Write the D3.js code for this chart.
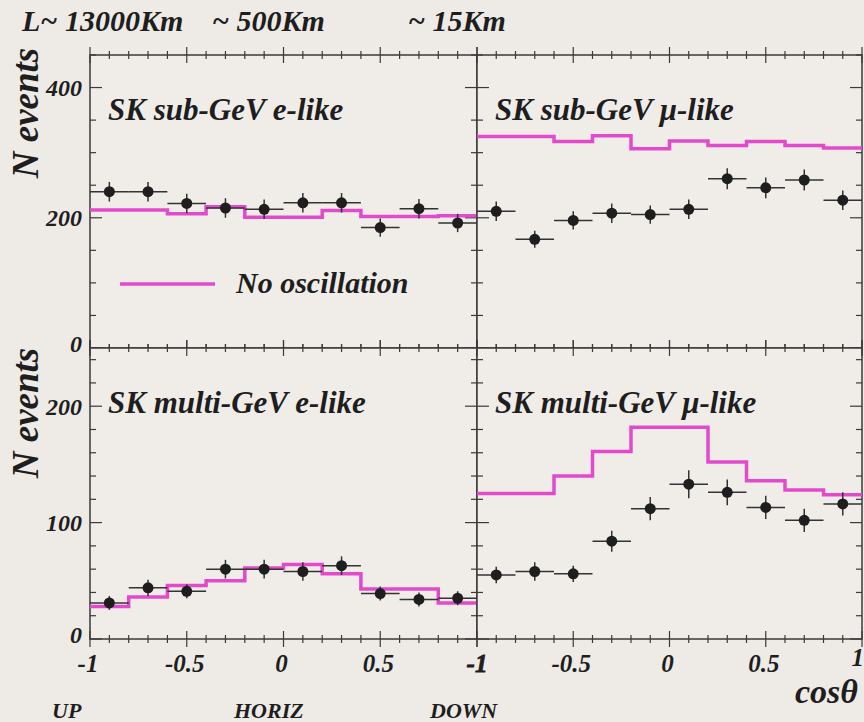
<!DOCTYPE html>
<html>
<head>
<meta charset="utf-8">
<script src="https://cdn.jsdelivr.net/npm/d3@7"></script>
<style>
  body { margin: 0; background: #eeebe6; }
</style>
</head>
<body>
<div id="chart"></div>
<script>
// zenith angle distributions, 10 bins in cos(theta)
const binCenters = [-0.9, -0.7, -0.5, -0.3, -0.1, 0.1, 0.3, 0.5, 0.7, 0.9];

// sub-GeV e-like
const subE_data = [240, 240, 222, 215, 213, 223, 223, 185, 214, 192];
const subE_err = [15, 15, 15, 15, 15, 15, 15, 14, 15, 14];
const subE_mc = [212, 212, 206, 217, 201, 201, 211, 202, 202, 203];

// sub-GeV mu-like
const subMu_data = [210, 167, 196, 207, 205, 213, 260, 246, 258, 227];
const subMu_err = [15, 13, 14, 15, 14, 15, 16, 16, 16, 15];
const subMu_mc = [325, 325, 317, 326, 306, 318, 311, 317, 311, 307];

// multi-GeV e-like
const multiE_data = [31, 44, 41, 60, 60, 58, 63, 39, 34, 35];
const multiE_err = [6, 7, 6, 8, 8, 8, 8, 6, 6, 6];
const multiE_mc = [28, 36, 46, 50, 61, 64, 56, 43, 43, 31];

// multi-GeV mu-like
const multiMu_data = [55, 58, 56, 84, 112, 133, 126, 113, 102, 116];
const multiMu_err = [7, 8, 7, 9, 10, 12, 11, 10, 10, 10];
const multiMu_mc = [125, 125, 140, 161, 182, 182, 152, 136, 128, 124];

const xTickValues = [-1, -0.5, 0, 0.5, 1];
const xTickLabels = ["-1", "-0.5", "0", "0.5", "1"];
const topYTicks = [0, 200, 400];
const bottomYTicks = [0, 100, 200];

const width = 864, height = 722;
const magenta = "#e24acb";
const ink = "#1e1e1e";

const svg = d3.select("#chart").append("svg")
    .attr("width", width)
    .attr("height", height)
    .attr("font-family", "'Liberation Serif', 'Times New Roman', serif")
    .attr("font-weight", "bold")
    .attr("font-style", "italic")
    .attr("fill", ink);

svg.append("rect").attr("width", width).attr("height", height).attr("fill", "#eeebe6");

// panel geometry
const cols = [[90, 477], [477, 862]];
const rows = [[55, 348], [348, 639]];

const panels = [
    {col: 0, row: 0, label: "SK sub-GeV e-like", data: subE_data, err: subE_err, mc: subE_mc, ymax: 450, minor: 50, yTicks: topYTicks},
    {col: 1, row: 0, label: "SK sub-GeV \u03bc-like", data: subMu_data, err: subMu_err, mc: subMu_mc, ymax: 450, minor: 50, yTicks: topYTicks},
    {col: 0, row: 1, label: "SK multi-GeV e-like", data: multiE_data, err: multiE_err, mc: multiE_mc, ymax: 250, minor: 20, yTicks: bottomYTicks},
    {col: 1, row: 1, label: "SK multi-GeV \u03bc-like", data: multiMu_data, err: multiMu_err, mc: multiMu_mc, ymax: 250, minor: 20, yTicks: bottomYTicks}
];

panels.forEach(p => {
    const x = d3.scaleLinear().domain([-1, 1]).range(cols[p.col]);
    const y = d3.scaleLinear().domain([0, p.ymax]).range([rows[p.row][1], rows[p.row][0]]);
    const g = svg.append("g");

    // frame
    g.append("rect")
        .attr("x", x(-1)).attr("y", y(p.ymax))
        .attr("width", x(1) - x(-1)).attr("height", y(0) - y(p.ymax))
        .attr("fill", "#f0ede9")
        .attr("stroke", "#3a3a3a")
        .attr("stroke-width", 1.5);

    // x ticks top and bottom (cross the frame)
    const xt = d3.range(-10, 11).map(d => d / 10);
    const isMajor = d => Math.abs(d * 2 - Math.round(d * 2)) < 1e-6;
    [y(0), y(p.ymax)].forEach(yy => {
        g.selectAll(null).data(xt).enter().append("line")
            .attr("x1", d => x(d)).attr("x2", d => x(d))
            .attr("y1", d => yy - (isMajor(d) ? 8 : 4))
            .attr("y2", d => yy + (isMajor(d) ? 8 : 4))
            .attr("stroke", "#3a3a3a").attr("stroke-width", 1.2);
    });

    // y ticks left and right (inward)
    const yt = d3.range(0, p.ymax + 1, p.minor);
    [[x(-1), 1], [x(1), -1]].forEach(([xx, dir]) => {
        g.selectAll(null).data(yt).enter().append("line")
            .attr("x1", xx).attr("x2", d => xx + dir * (p.yTicks.includes(d) ? 12 : 6))
            .attr("y1", d => y(d)).attr("y2", d => y(d))
            .attr("stroke", "#3a3a3a").attr("stroke-width", 1.2);
    });

    // y tick labels (left column only)
    if (p.col === 0) {
        g.selectAll(null).data(p.yTicks).enter().append("text")
            .attr("x", x(-1) - 8)
            .attr("y", d => y(d) + (d === 0 ? -4 : 0))
            .attr("dy", "0.35em")
            .attr("text-anchor", "end")
            .style("font-size", "24px")
            .text(d => d);
    }

    // MC histogram (step line)
    const steps = [];
    p.mc.forEach((v, i) => {
        steps.push([binCenters[i] - 0.1, v]);
        steps.push([binCenters[i] + 0.1, v]);
    });
    g.append("path")
        .attr("d", d3.line().x(d => x(d[0])).y(d => y(d[1]))(steps))
        .attr("fill", "none")
        .attr("stroke", magenta)
        .attr("stroke-width", 3.5);

    // data points with error bars
    const pts = p.data.map((v, i) => ({c: binCenters[i], v: v, e: p.err[i]}));
    g.selectAll(null).data(pts).enter().append("line")
        .attr("x1", d => x(d.c - 0.1)).attr("x2", d => x(d.c + 0.1))
        .attr("y1", d => y(d.v)).attr("y2", d => y(d.v))
        .attr("stroke", "#333").attr("stroke-width", 1.5);
    g.selectAll(null).data(pts).enter().append("line")
        .attr("x1", d => x(d.c)).attr("x2", d => x(d.c))
        .attr("y1", d => y(d.v - d.e)).attr("y2", d => y(d.v + d.e))
        .attr("stroke", "#333").attr("stroke-width", 1.5);
    g.selectAll(null).data(pts).enter().append("circle")
        .attr("cx", d => x(d.c)).attr("cy", d => y(d.v))
        .attr("r", 5.5)
        .attr("fill", ink);

    // panel label
    g.append("text")
        .attr("x", x(-1) + 18)
        .attr("y", y(p.ymax) + 65)
        .style("font-size", "31px")
        .text(p.label);

    // x tick labels (bottom row); the shared -1/1 at the joint is drawn once below
    if (p.row === 1) {
        const idx = p.col === 0 ? [0, 1, 2, 3] : [1, 2, 3, 4];
        g.selectAll(null).data(idx).enter().append("text")
            .attr("x", i => xTickValues[i] === 1 ? width : x(xTickValues[i]) - 2)
            .attr("y", i => y(0) + (xTickValues[i] === 1 ? 27 : 33))
            .attr("text-anchor", i => xTickValues[i] === 1 ? "end" : "middle")
            .style("font-size", "25px")
            .text(i => xTickLabels[i]);
    }
});

// joint label where the lower panels meet (left "1" over right "-1")
svg.append("text")
    .attr("x", 477).attr("y", 672)
    .attr("text-anchor", "middle")
    .attr("stroke", ink).attr("stroke-width", 0.8)
    .style("font-size", "25px")
    .text("-1");

// y axis titles
[113, 413].forEach(cy => {
    svg.append("text")
        .attr("transform", `translate(38,${cy}) rotate(-90)`)
        .attr("text-anchor", "middle")
        .style("font-size", "37px")
        .text("N events");
});

// baseline labels on top
const topLabels = [["L~ 13000Km", 22], ["~ 500Km", 212], ["~ 15Km", 408]];
topLabels.forEach(([t, xx]) => {
    svg.append("text").attr("x", xx).attr("y", 31).style("font-size", "30px").text(t);
});

// direction labels at bottom
const dirLabels = [["UP", 52], ["HORIZ", 234], ["DOWN", 430]];
dirLabels.forEach(([t, xx]) => {
    svg.append("text").attr("x", xx).attr("y", 718).style("font-size", "22px").text(t);
});

// cos theta
svg.append("text").attr("x", 795).attr("y", 703).style("font-size", "34px").text("cos\u03b8");

// legend
svg.append("line")
    .attr("x1", 120).attr("x2", 215).attr("y1", 284).attr("y2", 284)
    .attr("stroke", magenta).attr("stroke-width", 3.5);
svg.append("text").attr("x", 236).attr("y", 293).style("font-size", "30px").text("No oscillation");
</script>
</body>
</html>
